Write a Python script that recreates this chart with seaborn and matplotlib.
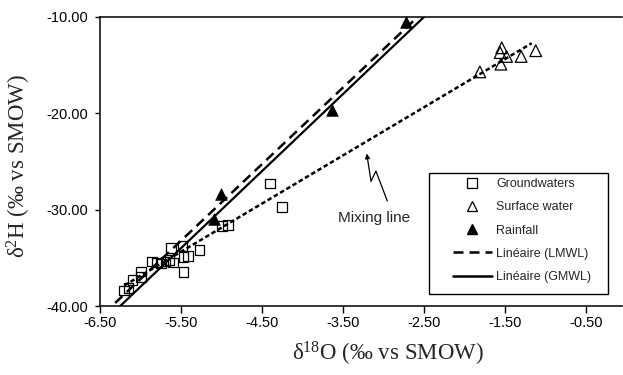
import matplotlib
matplotlib.use("Agg")
import matplotlib.pyplot as plt
import seaborn as sns
import numpy as np
from matplotlib.lines import Line2D
from matplotlib.patches import Rectangle

# ---------------- data ----------------
gw_x = [-6.20, -6.15, -6.10, -5.99, -5.99, -5.86, -5.80, -5.75, -5.69, -5.64,
        -5.60, -5.62, -5.48, -5.47, -5.41, -5.27, -5.47, -4.99, -4.92, -4.40, -4.25]
gw_y = [-38.4, -38.1, -37.3, -36.4, -37.0, -35.4, -35.5, -35.6, -35.4, -35.2,
        -35.5, -34.0, -33.8, -34.9, -34.8, -34.2, -36.5, -31.7, -31.6, -27.3, -29.7]

sw_x = [-1.81, -1.54, -1.56, -1.48, -1.55, -1.30, -1.12]
sw_y = [-15.7, -13.2, -13.7, -14.1, -14.9, -14.1, -13.5]

rain_x = [-5.09, -5.00, -3.63, -2.72]
rain_y = [-31.0, -28.4, -19.7, -10.5]

# regression lines (slope, intercept, x-extent)
lmwl_coef = (7.95, 10.5)
gmwl_coef = (8.0, 10.0)
mix_coef = (5.0, -6.87)
wl_range = [-6.6, -2.3]
mix_range = [-6.2, -1.17]

# annotation squiggle (data coords)
squig_x = [-3.207, -3.154, -3.093, -2.953]
squig_y = [-24.17, -27.04, -26.0, -29.1]

x_ticks = [-6.5, -5.5, -4.5, -3.5, -2.5, -1.5, -0.5]
y_ticks = [-40, -30, -20, -10]

# ---------------- style ----------------
sns.set_theme(style="white")
plt.rcParams["font.family"] = ["Liberation Sans", "DejaVu Sans"]
plt.rcParams["mathtext.fontset"] = "custom"
plt.rcParams["mathtext.rm"] = "Liberation Serif"
plt.rcParams["mathtext.it"] = "Liberation Serif:italic"

W, H = 623, 375
fig = plt.figure(figsize=(W / 100, H / 100), dpi=100)
ax = fig.add_axes([100 / W, 69 / H, 521.6 / W, 289 / H])

# lines
wx = np.array(wl_range)
sns.lineplot(x=wx, y=lmwl_coef[0] * wx + lmwl_coef[1], ax=ax, color="black",
             lw=1.8, linestyle=(0, (4, 2.4)), zorder=2)
sns.lineplot(x=wx, y=gmwl_coef[0] * wx + gmwl_coef[1], ax=ax, color="black",
             lw=1.6, zorder=2)
mx = np.array(mix_range)
sns.lineplot(x=mx, y=mix_coef[0] * mx + mix_coef[1], ax=ax, color="black",
             lw=1.8, linestyle=(0, (1.8, 1.1)), zorder=2)

# points
sns.scatterplot(x=gw_x, y=gw_y, marker="s", s=48, facecolor="none",
                edgecolor="black", linewidth=0.9, ax=ax, zorder=3)
sns.scatterplot(x=sw_x, y=sw_y, marker="^", s=70, facecolor="none",
                edgecolor="black", linewidth=0.9, ax=ax, zorder=3)
sns.scatterplot(x=rain_x, y=rain_y, marker="^", s=70, color="black",
                edgecolor="black", linewidth=0.5, ax=ax, zorder=3, clip_on=False)

# squiggle annotation
ax.plot(squig_x[1:], squig_y[1:], color="black", lw=0.9)
ax.annotate("", xy=(squig_x[0], squig_y[0]), xytext=(squig_x[1], squig_y[1]),
            arrowprops=dict(arrowstyle="-|>", color="black", lw=0.9,
                            mutation_scale=7, shrinkA=0, shrinkB=0))
ax.text(-3.562, -30.17, "Mixing line", fontsize=11, ha="left", va="top")

# axes
ax.set_xlim(-6.5, -0.06)
ax.set_ylim(-40, -10)
ax.set_xticks(x_ticks)
ax.set_yticks(y_ticks)
ax.set_xticklabels([f"{v:.2f}" for v in x_ticks], fontsize=10.5)
ax.set_yticklabels([f"{v:.2f}" for v in y_ticks], fontsize=10.5)
ax.tick_params(axis="x", direction="out", length=5, width=1, pad=2.5, colors="black")
ax.tick_params(axis="y", direction="out", length=3.5, width=1, pad=5, colors="black")
ax.tick_params(bottom=True, left=True)
for s in ["left", "bottom", "top"]:
    ax.spines[s].set_visible(True)
    ax.spines[s].set_color("black")
    ax.spines[s].set_linewidth(1.1)
ax.spines["right"].set_visible(False)
ax.grid(False)

ax.set_xlabel("δ$^{18}$O (‰ vs SMOW)", fontfamily="Liberation Serif", fontsize=16.5)
ax.xaxis.set_label_coords(0.552, -0.118)
ax.xaxis.label.set_va("top")
ax.set_ylabel("δ$^{2}$H (‰ vs SMOW)", fontfamily="Liberation Serif", fontsize=16.5)
ax.yaxis.set_label_coords(-0.128, 0.484)

# legend
handles = [
    Line2D([], [], marker="s", ls="none", mfc="none", mec="black", ms=6.5, mew=0.9),
    Line2D([], [], marker="^", ls="none", mfc="none", mec="black", ms=7, mew=0.9),
    Line2D([], [], marker="^", ls="none", mfc="black", mec="black", ms=7),
    Line2D([], [], color="black", lw=1.8, ls=(0, (4, 2.4))),
    Line2D([], [], color="black", lw=1.8),
]
labels = ["Groundwaters", "Surface water", "Rainfall", "Linéaire (LMWL)", "Linéaire (GMWL)"]
fig.legend(handles, labels, loc="upper left", bbox_to_anchor=(453 / W, 1 - 178 / H),
           bbox_transform=fig.transFigure, frameon=False, fontsize=9,
           borderpad=0, borderaxespad=0, handlelength=3.1, handletextpad=0.35,
           labelspacing=0.9)
fig.add_artist(Rectangle((429 / W, 1 - 294 / H), (608 - 429) / W, (294 - 173) / H,
                         transform=fig.transFigure, fill=False, lw=1.0,
                         edgecolor="black"))

fig.savefig("out.png", dpi=100)
